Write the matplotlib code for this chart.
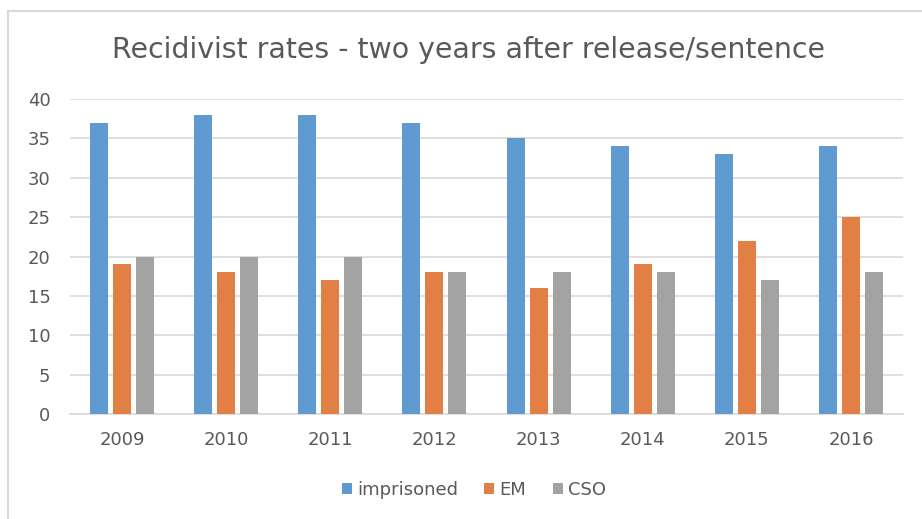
import numpy as np
import matplotlib
matplotlib.use("Agg")
import matplotlib.pyplot as plt
from matplotlib.lines import Line2D

years = ["2009", "2010", "2011", "2012", "2013", "2014", "2015", "2016"]
imprisoned = [37, 38, 38, 37, 35, 34, 33, 34]
em = [19, 18, 17, 18, 16, 19, 22, 25]
cso = [20, 20, 20, 18, 18, 18, 17, 18]

series = [("imprisoned", imprisoned, "#5f9bd1"),
          ("EM", em, "#e17f44"),
          ("CSO", cso, "#a3a3a3")]

plt.rcParams["font.family"] = ["DejaVu Sans"]
text_col = "#595959"

fig = plt.figure(figsize=(9.22, 5.19), dpi=100)
ax = fig.add_axes([70 / 922, 1 - 414 / 519, 833 / 922, 315 / 519])

x = np.arange(len(years))
width = 0.173
step = 0.221
for i, (name, vals, col) in enumerate(series):
    ax.bar(x + (i - 1) * step, vals, width, color=col, label=name, zorder=3)

ax.set_xlim(-0.5, len(years) - 0.5)
ax.set_ylim(0, 40)
ax.set_yticks(range(0, 41, 5))
ax.set_xticks(x)
ax.set_xticklabels(years)
ax.grid(axis="y", color="#d9d9d9", linewidth=1.2, zorder=0)
for s in ["top", "right", "left"]:
    ax.spines[s].set_visible(False)
ax.spines["bottom"].set_color("#d9d9d9")
ax.spines["bottom"].set_linewidth(1.2)
ax.tick_params(axis="both", length=0, labelsize=13, labelcolor=text_col)
ax.tick_params(axis="x", pad=12)
ax.tick_params(axis="y", pad=14)

fig.text(0.508, 1 - 50 / 519, "Recidivist rates - two years after release/sentence",
         ha="center", va="center", fontsize=20.4, color=text_col)

leg = fig.legend(loc="center", bbox_to_anchor=(0.514, 1 - 490 / 519), ncol=3,
                 frameon=False, fontsize=13, handlelength=0.55, handleheight=0.55,
                 handletextpad=0.3, columnspacing=1.45)
for t in leg.get_texts():
    t.set_color(text_col)

# chart area border (left and top edges visible)
fig.add_artist(Line2D([8 / 922, 8 / 922], [0, 1 - 11 / 519], transform=fig.transFigure,
                      color="#d9d9d9", linewidth=1.5))
fig.add_artist(Line2D([8 / 922, 1], [1 - 11 / 519, 1 - 11 / 519], transform=fig.transFigure,
                      color="#d9d9d9", linewidth=1.5))

fig.savefig("out.png", dpi=100)
